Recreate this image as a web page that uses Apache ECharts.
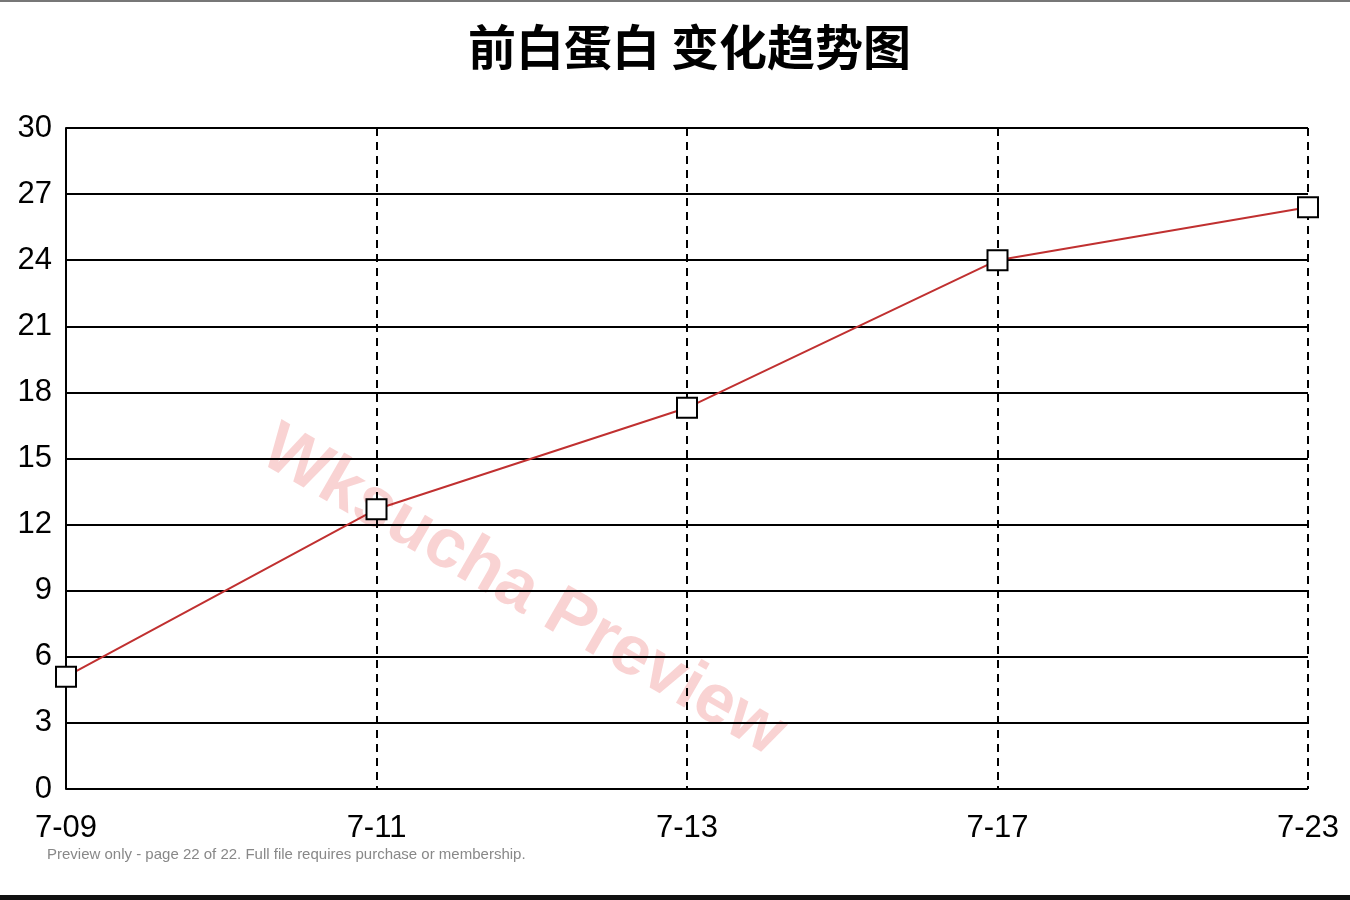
<!DOCTYPE html>
<html>
<head>
<meta charset="utf-8">
<script src="https://cdn.jsdelivr.net/npm/echarts@6/dist/echarts.min.js"></script>
<style>
  html, body { margin: 0; padding: 0; background: #fff; }
  #chart { width: 1350px; height: 900px; }
</style>
</head>
<body>
<div id="chart"></div>
<script>
'use strict';

// data
var dates = ['7-09', '7-11', '7-13', '7-17', '7-23'];
var values = [5.1, 12.7, 17.3, 24.0, 26.4];
var yMin = 0, yMax = 30, yStep = 3;

var chart = echarts.init(document.getElementById('chart'));

var labelFont = '"Liberation Sans", Arial, sans-serif';

var option = {
    backgroundColor: '#fff',
    animation: false,
    title: {
        text: '前白蛋白 变化趋势图',
        left: 463,
        top: 18,
        textStyle: {
            fontFamily: '"Noto Sans CJK SC", sans-serif',
            fontSize: 48,
            fontWeight: 'bold',
            color: '#000'
        }
    },
    grid: {
        left: 66,
        right: 42,
        top: 128,
        bottom: 111,
        containLabel: false
    },
    xAxis: {
        type: 'category',
        data: dates,
        boundaryGap: false,
        axisLine: { show: false },
        axisTick: { show: false },
        axisLabel: {
            color: '#000',
            fontFamily: labelFont,
            fontSize: 31,
            margin: 24
        },
        splitLine: {
            show: true,
            lineStyle: { color: '#000', width: 2, type: [8, 6] }
        }
    },
    yAxis: {
        type: 'value',
        min: yMin,
        max: yMax,
        interval: yStep,
        axisLine: { show: true, lineStyle: { color: '#000', width: 2 } },
        axisTick: { show: false },
        axisLabel: {
            color: '#000',
            fontFamily: labelFont,
            fontSize: 31,
            margin: 14
        },
        splitLine: {
            show: true,
            lineStyle: { color: '#000', width: 2 }
        }
    },
    graphic: [
        {
            type: 'text',
            z: -10,
            x: 523,
            y: 592,
            rotation: -Math.PI / 6,
            style: {
                text: 'Wksucha Preview',
                fill: 'rgba(235, 110, 110, 0.3)',
                font: 'bold 70px "Liberation Sans", Arial, sans-serif',
                textAlign: 'center',
                textVerticalAlign: 'middle'
            }
        },
        {
            type: 'text',
            x: 47,
            y: 847,
            style: {
                text: 'Preview only - page 22 of 22. Full file requires purchase or membership.',
                fill: '#888',
                font: '15px "Liberation Sans", Arial, sans-serif'
            }
        },
        {
            type: 'rect',
            shape: { x: 0, y: 0, width: 1350, height: 2 },
            style: { fill: '#777' }
        },
        {
            type: 'rect',
            shape: { x: 0, y: 895, width: 1350, height: 5 },
            style: { fill: '#111' }
        }
    ],
    series: [{
        type: 'line',
        data: values,
        symbol: 'rect',
        symbolSize: 20,
        showAllSymbol: true,
        lineStyle: { color: '#c03030', width: 2 },
        itemStyle: { color: '#fff', borderColor: '#000', borderWidth: 2 },
        z: 5
    }]
};

chart.setOption(option);
</script>
</body>
</html>
